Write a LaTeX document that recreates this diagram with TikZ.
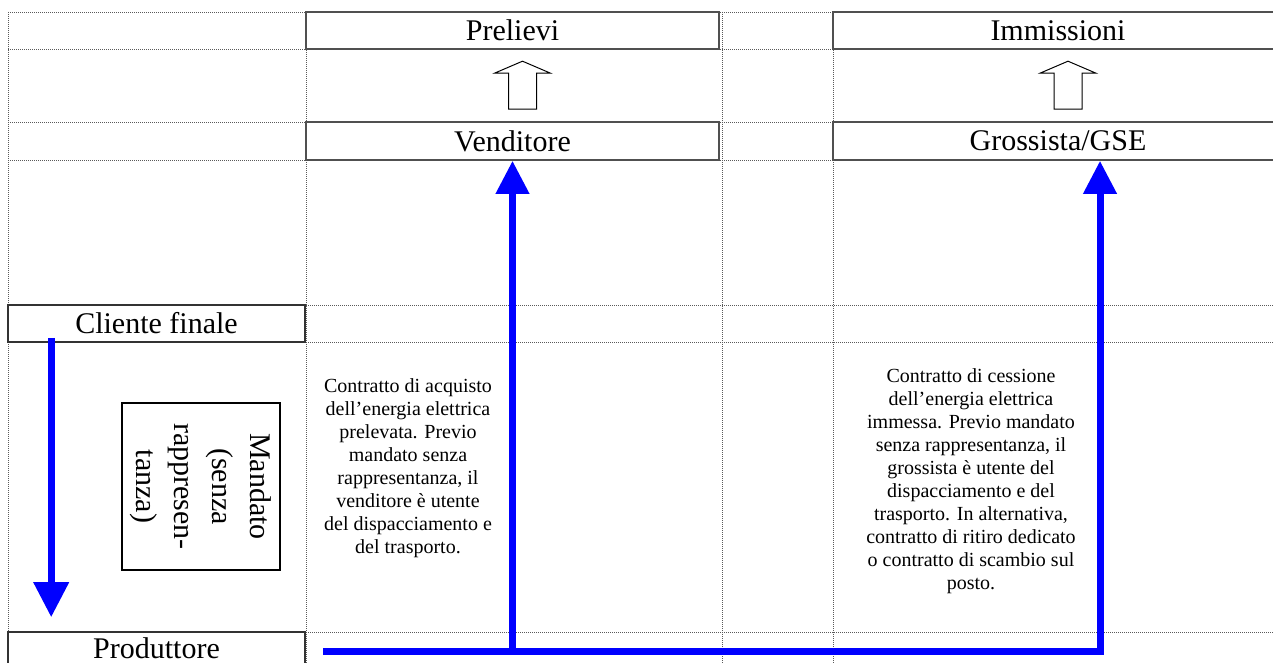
\documentclass[tikz,border=0pt]{standalone}
\usepackage{fontspec}
\setmainfont{Liberation Serif}
\usetikzlibrary{arrows.meta}
\definecolor{blu}{RGB}{0,0,255}
\definecolor{bordo}{RGB}{80,80,80}
\definecolor{grigio}{RGB}{90,90,90}

\begin{document}
\begin{tikzpicture}[x=1pt, y=-1pt,
    griglia/.style={grigio, line width=0.9pt, dash pattern=on 1pt off 1pt},
    casella/.style={draw=bordo, line width=1.6pt, fill=white, inner sep=0pt, font=\fontsize{30}{36}\selectfont},
    nota/.style={align=center, inner sep=0pt, font=\fontsize{20}{23}\selectfont},
    flusso/.style={blu, line width=7pt, -{Triangle[length=33pt, width=32pt]}},
    vuota/.style={draw=black, line width=1pt, fill=white, line join=miter}]

    \useasboundingbox (0,0) rectangle (1273,663);
    \clip (0,0) rectangle (1273,663);

    % griglia del foglio
    \foreach \gx in {8,306,722,833}
        \draw[griglia] (\gx,12) -- (\gx,663);
    \foreach \gy in {12,49,122,160,305,342,632}
        \draw[griglia] (8,\gy) -- (1273,\gy);

    % caselle
    \node[casella, minimum width=413pt, minimum height=37pt] (prel) at (512.5,30.5) {Prelievi};
    \node[casella, minimum width=413pt, minimum height=38pt] (vend) at (512.5,141) {Venditore};
    \node[casella, minimum width=450pt, minimum height=37pt] (imm) at (1058,30.5) {Immissioni};
    \node[casella, minimum width=450pt, minimum height=38pt] (gse) at (1058,141) {Grossista/GSE};
    \node[casella, draw=black!80, minimum width=297pt, minimum height=37pt] (cliente) at (156.5,323.5) {Cliente finale};
    \node[casella, draw=black!80, minimum width=297pt, minimum height=37pt] (prod) at (156.5,650.5) {\raisebox{4pt}{Produttore}};

    \node[draw, line width=1.6pt, rotate=-90, minimum width=167pt, minimum height=158pt, inner sep=0pt,
        align=center, font=\fontsize{30}{38}\selectfont] (mandato) at (201,486.5) {Mandato\\(senza\\rappresen-\\tanza)};

    % testi dei contratti
    \node[nota] (acquisto) at (408,468) {Contratto di acquisto\\dell’energia elettrica\\prelevata. Previo\\mandato senza\\rappresentanza, il\\venditore è utente\\del dispacciamento e\\del trasporto.};
    \node[nota] (cessione) at (971,481) {Contratto di cessione\\dell’energia elettrica\\immessa. Previo mandato\\senza rappresentanza, il\\grossista è utente del\\dispacciamento e del\\trasporto. In alternativa,\\contratto di ritiro dedicato\\o contratto di scambio sul\\posto.};

    % frecce vuote
    \foreach \sotto in {vend, gse}
        \draw[vuota] ([xshift=10pt,yshift=12pt]\sotto.north) ++(-14,0) -- ++(0,-36) -- ++(-14,0) -- ++(28,-12) -- ++(28,12) -- ++(-14,0) -- ++(0,36) -- cycle;

    % frecce blu
    \coordinate (avvio) at (323,651);
    \draw[flusso] (avvio) -| ([xshift=42pt]gse.south);
    \draw[flusso] (avvio -| vend.south) -- (vend.south);
    \draw[flusso, -{Triangle[length=35pt, width=34pt]}] ([xshift=44pt,yshift=5pt]cliente.south west) -- ([xshift=44pt,yshift=14pt]prod.north west);

\end{tikzpicture}
\end{document}
